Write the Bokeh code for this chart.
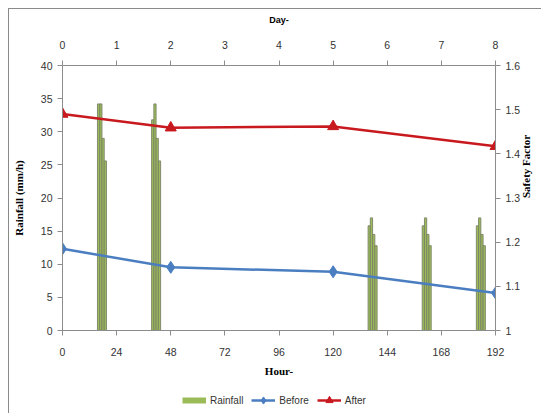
import math
from bokeh.plotting import figure
from bokeh.layouts import column
from bokeh.models import Range1d, LinearAxis, FixedTicker, Legend, LegendItem, CustomJSTickFormatter
from bokeh.embed import file_html
from bokeh.resources import INLINE

# ---- data ----
rain_hour = [16, 17, 18, 19, 40, 41, 42, 43, 136, 137, 138, 139,
             160, 161, 162, 163, 184, 185, 186, 187]
rain_mm = [34.2, 34.2, 29.0, 25.6, 31.8, 34.2, 29.0, 25.6, 15.8, 17.0, 14.5, 12.8,
           15.8, 17.0, 14.5, 12.8, 15.8, 17.0, 14.5, 12.8]
sf_hour = [0, 48, 120, 192]
sf_before = [1.185, 1.143, 1.133, 1.085]
sf_after = [1.490, 1.459, 1.462, 1.417]
hour_ticks = [0, 24, 48, 72, 96, 120, 144, 168, 192]
day_ticks = [0, 1, 2, 3, 4, 5, 6, 7, 8]
rain_ticks = [0, 5, 10, 15, 20, 25, 30, 35, 40]
sf_ticks = [1.0, 1.1, 1.2, 1.3, 1.4, 1.5, 1.6]
series_names = ["Rainfall", "Before", "After"]

GREEN = "#9BBB59"
BLUE = "#4A7EC1"
RED = "#C8191F"
AXIS = "#8C8C8C"
TICKTXT = "#333333"

p = figure(width=532, height=374, output_backend="svg", toolbar_location=None,
           x_range=Range1d(0, 192), y_range=Range1d(0, 40),
           x_axis_location=None, y_axis_location=None,
           min_border_left=52, min_border_right=45, min_border_top=56, min_border_bottom=53)
p.extra_y_ranges = {"sf": Range1d(1, 1.6)}
p.extra_x_ranges = {"day": Range1d(0, 8)}
p.grid.visible = False
p.outline_line_color = None
p.background_fill_color = "white"
p.border_fill_color = "white"


def style(ax):
    ax.axis_line_color = AXIS
    ax.major_tick_line_color = AXIS
    ax.minor_tick_line_color = None
    ax.major_tick_out = 5
    ax.major_tick_in = 0
    ax.major_label_text_font = "Liberation Sans"
    ax.major_label_text_font_size = "10.5px"
    ax.major_label_text_color = TICKTXT
    ax.axis_label_text_font = "Liberation Serif"
    ax.axis_label_text_font_style = "bold"
    ax.axis_label_text_font_size = "11px"
    ax.axis_label_text_color = "black"


bottom = LinearAxis(ticker=FixedTicker(ticks=hour_ticks), axis_label="Hour-")
style(bottom)
bottom.major_label_standoff = 12
bottom.axis_label_standoff = 6
p.add_layout(bottom, "below")

top = LinearAxis(x_range_name="day", ticker=FixedTicker(ticks=day_ticks), axis_label="Day-")
style(top)
top.major_label_standoff = 12
top.axis_label_standoff = 13
top.axis_label_text_font = "Liberation Sans"
top.axis_label_text_font_size = "9px"
p.add_layout(top, "above")

left = LinearAxis(ticker=FixedTicker(ticks=rain_ticks), axis_label="Rainfall (mm/h)")
style(left)
left.major_label_standoff = 5
left.axis_label_standoff = 13
p.add_layout(left, "left")

right = LinearAxis(y_range_name="sf", ticker=FixedTicker(ticks=sf_ticks), axis_label="Safety Factor",
                   formatter=CustomJSTickFormatter(code="return String(Math.round(tick*10)/10)"))
style(right)
right.major_label_standoff = 5
right.axis_label_standoff = 3
if "axis_label_orientation" in LinearAxis.properties():
    right.axis_label_orientation = math.pi / 2
p.add_layout(right, "right")

p.vbar(x=rain_hour, top=rain_mm, bottom=0, width=1, fill_color=GREEN,
       line_color="#7A8266", line_width=0.9)

p.line(sf_hour, sf_before, y_range_name="sf", line_color=BLUE, line_width=2.5)
p.scatter(sf_hour, sf_before, y_range_name="sf", marker="diamond", size=12,
          fill_color=BLUE, line_color=BLUE)
p.line(sf_hour, sf_after, y_range_name="sf", line_color=RED, line_width=2.5)
p.scatter(sf_hour, sf_after, y_range_name="sf", marker="triangle", size=11,
          fill_color=RED, line_color=RED)

# ---- legend strip (separate small figure so the legend is not clipped);
# its ranges lie outside the data, so only the legend itself is drawn ----
lf = figure(width=532, height=30, output_backend="svg", toolbar_location=None,
            x_range=Range1d(-1000, -999), y_range=Range1d(-1000, -999),
            x_axis_location=None, y_axis_location=None,
            min_border_left=0, min_border_right=0, min_border_top=0, min_border_bottom=0)
lf.grid.visible = False
lf.outline_line_color = None
lf.border_fill_color = "white"
r_rain = lf.line(rain_hour, rain_mm, line_color=GREEN, line_width=6)
r_bl = lf.line(sf_hour, sf_before, line_color=BLUE, line_width=2.5)
r_bs = lf.scatter(sf_hour, sf_before, marker="diamond", size=12, fill_color=BLUE, line_color=BLUE)
r_rl = lf.line(sf_hour, sf_after, line_color=RED, line_width=2.5)
r_rs = lf.scatter(sf_hour, sf_after, marker="triangle", size=11, fill_color=RED, line_color=RED)

legend = Legend(items=[LegendItem(label=series_names[0], renderers=[r_rain]),
                       LegendItem(label=series_names[1], renderers=[r_bl, r_bs]),
                       LegendItem(label=series_names[2], renderers=[r_rl, r_rs])],
                location=(120, 4), orientation="horizontal",
                glyph_width=24, glyph_height=18, label_height=18, label_standoff=4,
                spacing=8, padding=0, margin=0, border_line_color=None,
                background_fill_alpha=0, label_text_font="Liberation Sans",
                label_text_font_size="10px", label_text_color="#333333")
lf.add_layout(legend)

layout = column(p, lf, spacing=0)
layout.margin = (8, 0, 0, 8)
layout.styles = {"border-top": "1px solid #8a8a8a", "border-left": "1px solid #8a8a8a"}

open("out.html", "w").write(file_html(layout, INLINE))
